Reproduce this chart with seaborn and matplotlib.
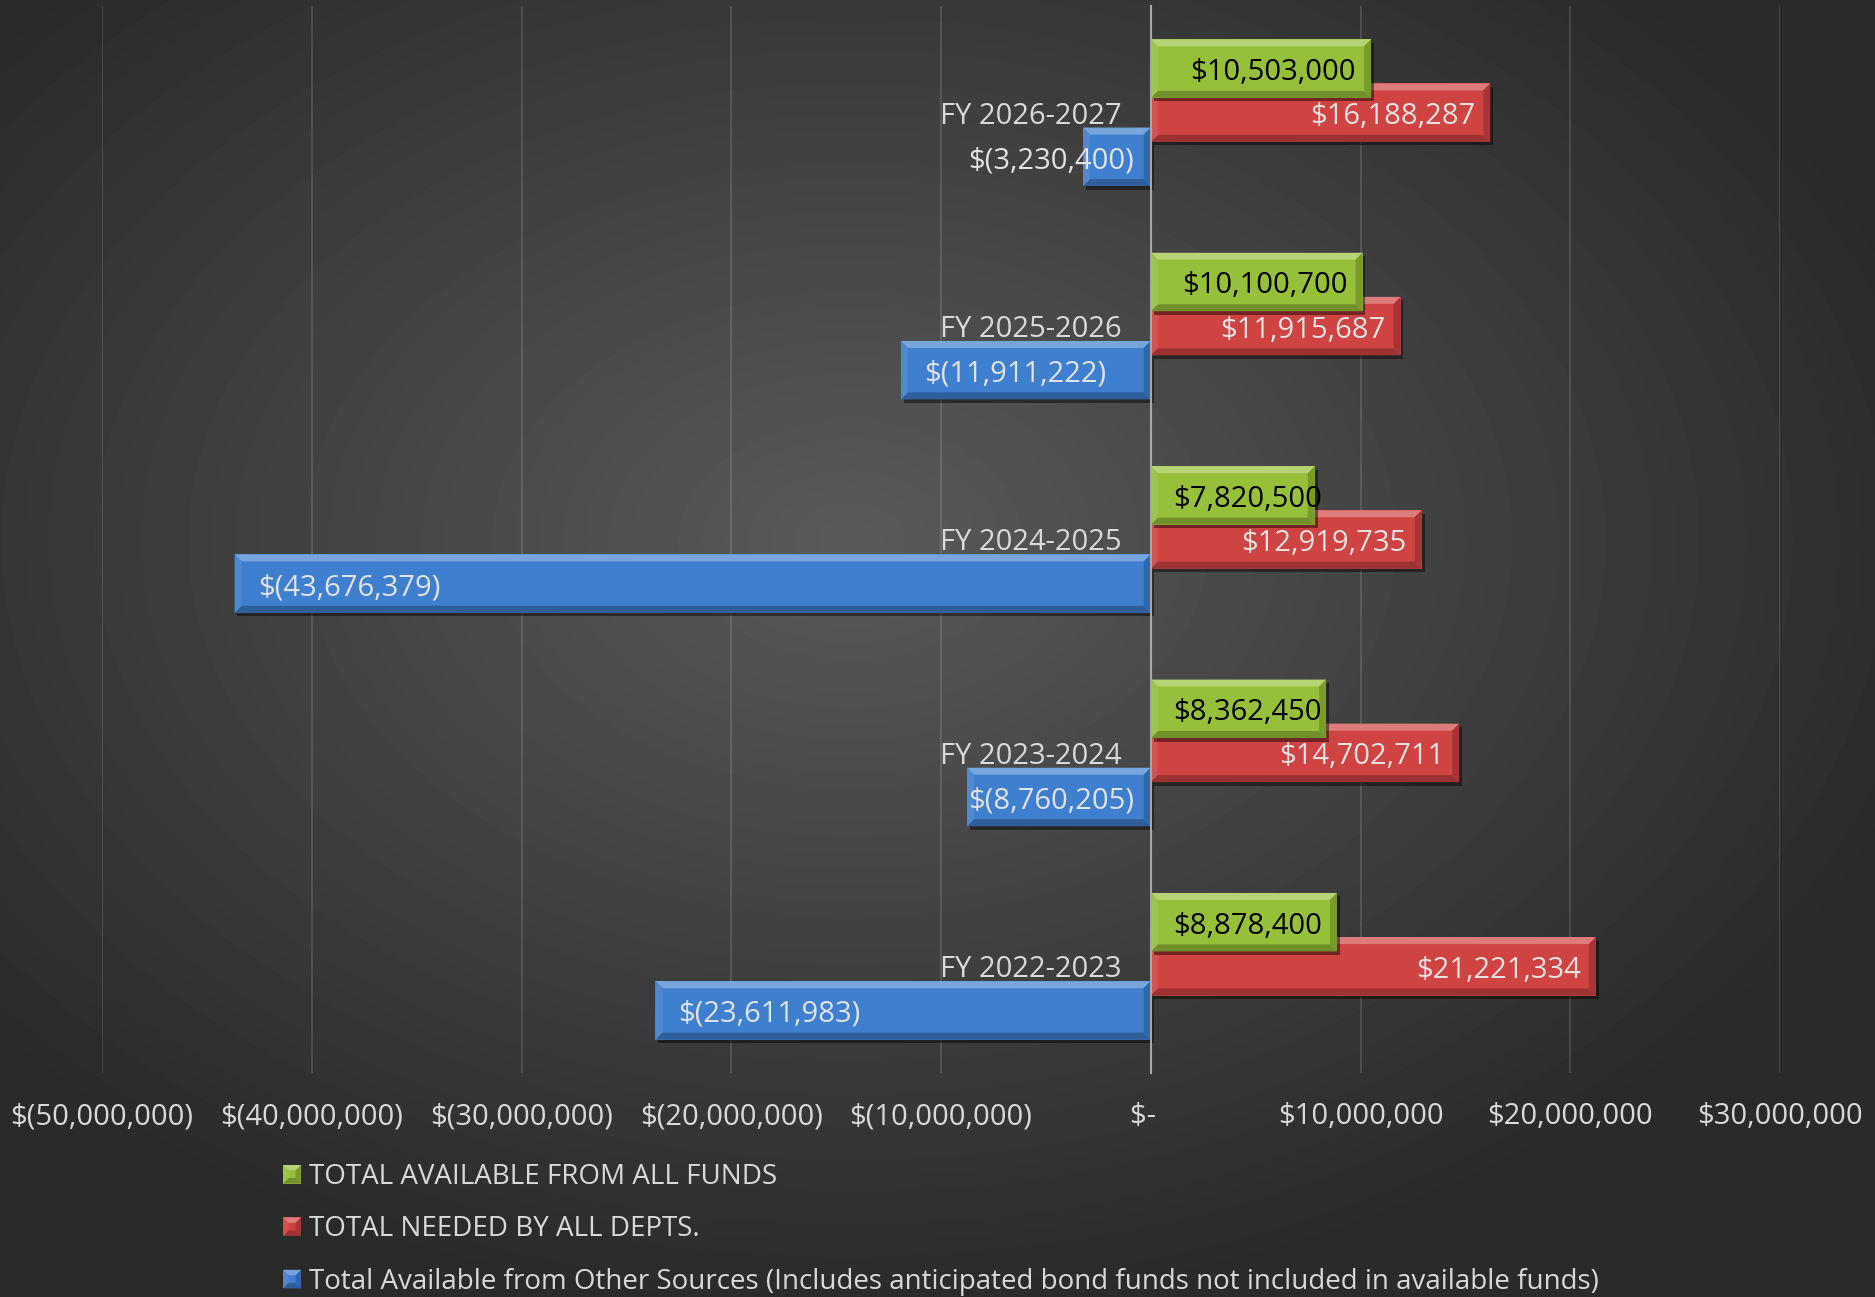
import numpy as np
import pandas as pd
import matplotlib
matplotlib.use("Agg")
import matplotlib.pyplot as plt
import matplotlib.patheffects as pe
import seaborn as sns
from matplotlib.patches import Polygon, Rectangle
from matplotlib.ticker import FuncFormatter, FixedLocator
from matplotlib.legend_handler import HandlerBase
from matplotlib.colors import to_rgb

# ---- data -------------------------------------------------------------
years = ["FY 2026-2027", "FY 2025-2026", "FY 2024-2025", "FY 2023-2024", "FY 2022-2023"]
available_all_funds = [10503000, 10100700, 7820500, 8362450, 8878400]
needed_all_depts = [16188287, 11915687, 12919735, 14702711, 21221334]
available_other = [-3230400, -11911222, -43676379, -8760205, -23611983]
series_names = [
    "TOTAL AVAILABLE FROM ALL FUNDS",
    "TOTAL NEEDED BY ALL DEPTS.",
    "Total Available from Other Sources (Includes anticipated bond funds not included in available funds)",
]
series_colors = ["#96c03a", "#d04343", "#3f7fcf"]
label_colors = ["#000000", "#e2e2e2", "#e2e2e2"]
x_ticks = [-50000000, -40000000, -30000000, -20000000, -10000000, 0, 10000000, 20000000, 30000000]

series_values = [available_all_funds, needed_all_depts, available_other]
df = pd.DataFrame({
    "year": years * 3,
    "value": available_all_funds + needed_all_depts + available_other,
    "series": [s for s in series_names for _ in years],
})

# ---- style ------------------------------------------------------------
sns.set_style("dark")
plt.rcParams["font.family"] = ["Open Sans", "DejaVu Sans"]
plt.rcParams["text.parse_math"] = False
TXT = "#d9d9d9"
FS = 21
LEG_FS = 20

W, H = 1875, 1297
fig = plt.figure(figsize=(W / 100, H / 100), dpi=100, facecolor="#2a2a2a")

# radial background
bg = fig.add_axes([0, 0, 1, 1], zorder=-10)
yy, xx = np.mgrid[0:H, 0:W]
cx, cy = 850, 540
r = np.sqrt(((xx - cx) / (W / 2)) ** 2 + ((yy - cy) / (H / 2)) ** 2)
t = np.clip(r / 1.2, 0, 1)
shade_img = (0x5a - (0x5a - 0x2a) * t) / 255.0
bg.imshow(shade_img, cmap="gray", vmin=0, vmax=1, extent=[0, 1, 0, 1],
          aspect="auto", origin="upper", interpolation="bilinear")
bg.set_xlim(0, 1)
bg.set_ylim(0, 1)
bg.axis("off")

ax = fig.add_axes([102 / W, 1 - 1073 / H, (1780 - 102) / W, (1073 - 6) / H])
ax.set_facecolor("none")

sns.barplot(data=df, x="value", y="year", hue="series", order=years,
            hue_order=series_names, palette=series_colors, orient="h",
            width=0.62, dodge=True, saturation=1, errorbar=None,
            legend=False, linewidth=0, ax=ax)

ax.set_xlim(-50000000, 30000000)
ax.set_ylim(4.5, -0.5)
ax.set_xlabel("")
ax.set_ylabel("")


def money(v):
    if abs(v) < 0.5:
        return "$-  "
    if v < 0:
        return f"$({abs(v):,.0f})"
    return f"${v:,.0f}"


ax.xaxis.set_major_locator(FixedLocator(x_ticks))
ax.xaxis.set_major_formatter(FuncFormatter(lambda v, p: money(v)))
ax.grid(False)
ax.xaxis.grid(True, color="white", alpha=0.13, linewidth=1.5)
ax.set_axisbelow(True)

for s in ["top", "right", "bottom"]:
    ax.spines[s].set_visible(False)
ax.spines["left"].set_position(("data", 0))
ax.spines["left"].set_color("#a8a8a8")
ax.spines["left"].set_linewidth(1.5)
ax.spines["left"].set_zorder(6)
ax.tick_params(axis="both", length=0, labelsize=FS, labelcolor=TXT)
ax.tick_params(axis="y", pad=21)
ax.tick_params(axis="x", pad=21)


def shade(c, f):
    c = np.array(to_rgb(c))
    if f >= 0:
        return tuple(c + (1 - c) * f)
    return tuple(c * (1 + f))


def bevel_polys(L, B, R, T, b):
    return [
        ([(L, T), (R, T), (R - b, T - b), (L + b, T - b)], 0.30),
        ([(L, B), (R, B), (R - b, B + b), (L + b, B + b)], -0.25),
        ([(L, T), (L + b, T - b), (L + b, B + b), (L, B)], 0.08),
        ([(R, T), (R - b, T - b), (R - b, B + b), (R, B)], -0.20),
    ]


BAR_H = 0.274
zorders = [3.0, 2.0, 2.0]
inv = ax.transData.inverted()
renderer = fig.canvas.get_renderer()
sx = ax.transData.transform((1, 0))[0] - ax.transData.transform((0, 0))[0]

for ci, cont in enumerate(ax.containers):
    color = series_colors[ci]
    z = zorders[ci]
    for bar, v in zip(cont.patches, series_values[ci]):
        cyv = bar.get_y() + bar.get_height() / 2
        bar.set_y(cyv - BAR_H / 2)
        bar.set_height(BAR_H)
        bar.set_zorder(z)
        bar.set_path_effects([pe.SimplePatchShadow(offset=(2, -2.5), shadow_rgbFace="black", alpha=0.45),
                              pe.Normal()])
        # bevelled edges
        p0 = ax.transData.transform((bar.get_x(), bar.get_y()))
        p1 = ax.transData.transform((bar.get_x() + bar.get_width(), bar.get_y() + bar.get_height()))
        L, R = sorted([p0[0], p1[0]])
        B, T = sorted([p0[1], p1[1]])
        for pts, f in bevel_polys(L, B, R, T, 7):
            ax.add_patch(Polygon(inv.transform(pts), closed=True, facecolor=shade(color, f),
                                 edgecolor="none", zorder=z + 0.1))
        # value label inside the bar end
        pos = v > 0
        ann = ax.annotate(money(v), xy=(v, cyv), xytext=(-15 if pos else 23, -4),
                          textcoords="offset pixels", ha="right" if pos else "left",
                          va="center", fontsize=FS, color=label_colors[ci], zorder=7)
        w = ann.get_window_extent(renderer).width
        if w + 2 * (15 if pos else 20) > abs(v) * sx:
            ann.xy = (0, cyv)
            ann.set_position((22 if pos else -17, -4))
            ann.set_ha("left" if pos else "right")


class BevelSquare(HandlerBase):
    def create_artists(self, legend, orig_handle, xdescent, ydescent, width, height, fontsize, trans):
        c = orig_handle.get_facecolor()
        L, B = -xdescent, -ydescent
        R, T = L + width, B + height
        arts = [Rectangle((L, B), width, height, facecolor=c, edgecolor="none", transform=trans)]
        b = min(width, height) * 0.3
        for pts, f in bevel_polys(L, B, R, T, b):
            arts.append(Polygon(pts, closed=True, facecolor=shade(c, f), edgecolor="none", transform=trans))
        return arts


handles = [Rectangle((0, 0), 1, 1, facecolor=c) for c in series_colors]
fig.legend(handles, series_names, loc="upper left", bbox_to_anchor=(283 / W, 1 - 1163 / H),
           frameon=False, fontsize=LEG_FS, labelcolor=TXT, handlelength=0.65, handleheight=0.65,
           handletextpad=0.3, labelspacing=0.88, borderpad=0, borderaxespad=0,
           handler_map={Rectangle: BevelSquare()})

fig.savefig("out.png", dpi=100, facecolor=fig.get_facecolor())
